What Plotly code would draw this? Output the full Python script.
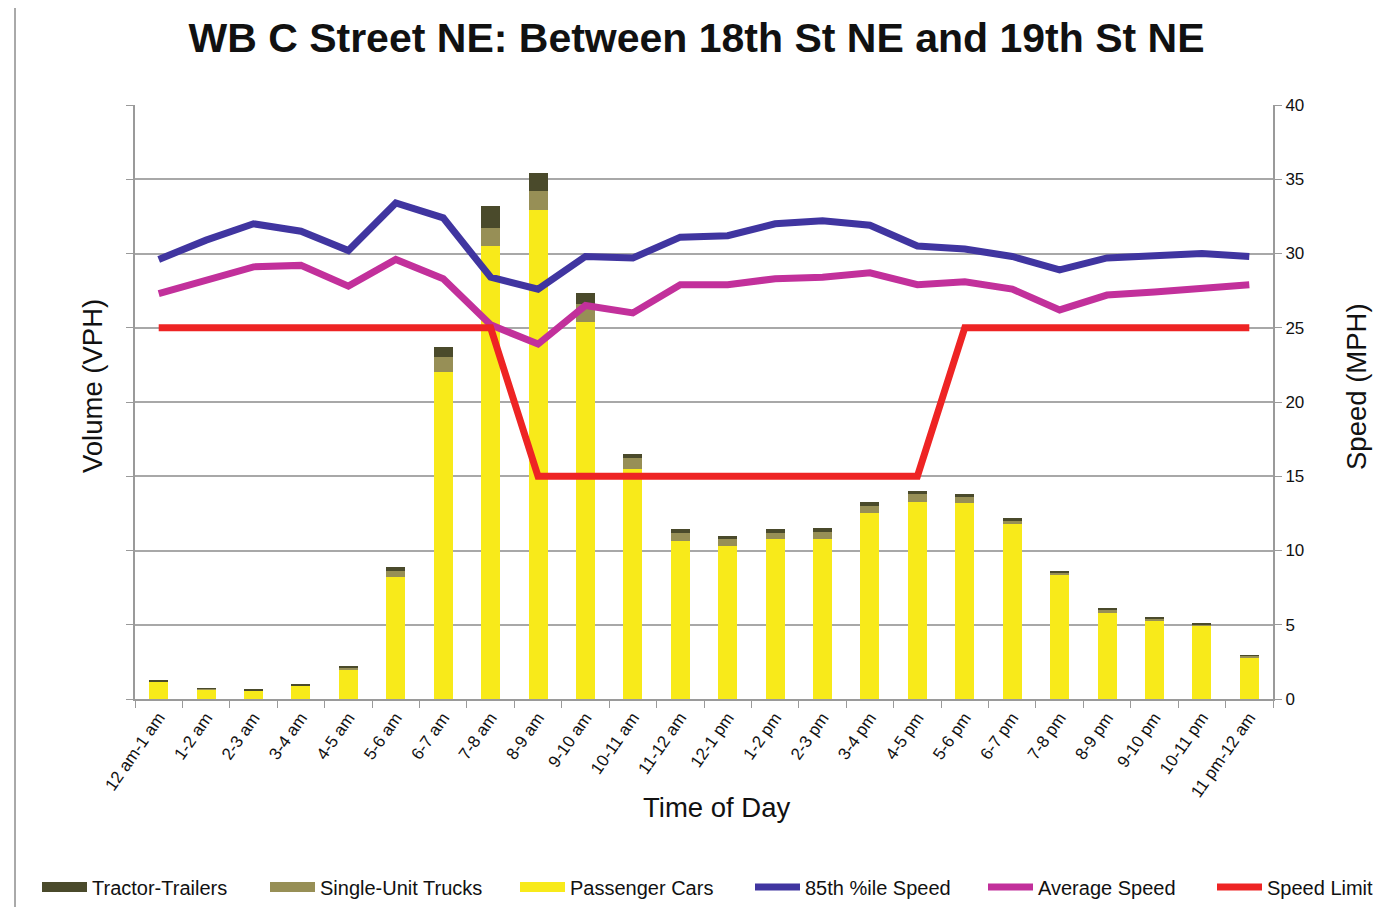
import plotly.graph_objects as go

categories = ["12 am-1 am", "1-2 am", "2-3 am", "3-4 am", "4-5 am", "5-6 am", "6-7 am", "7-8 am",
              "8-9 am", "9-10 am", "10-11 am", "11-12 am", "12-1 pm", "1-2 pm", "2-3 pm", "3-4 pm",
              "4-5 pm", "5-6 pm", "6-7 pm", "7-8 pm", "8-9 pm", "9-10 pm", "10-11 pm", "11 pm-12 am"]

passenger_cars = [1.15, 0.65, 0.55, 0.88, 2.0, 8.2, 22.0, 30.5, 32.9, 25.4, 15.5, 10.64,
                  10.3, 10.77, 10.8, 12.55, 13.3, 13.22, 11.78, 8.33, 5.81, 5.25, 4.94, 2.8]
single_unit = [0.05, 0.04, 0.04, 0.05, 0.12, 0.44, 1.0, 1.2, 1.3, 1.2, 0.75, 0.56,
               0.47, 0.43, 0.47, 0.45, 0.5, 0.36, 0.22, 0.17, 0.2, 0.16, 0.1, 0.1]
tractor_trailers = [0.03, 0.02, 0.02, 0.03, 0.08, 0.22, 0.7, 1.5, 1.25, 0.75, 0.25, 0.22,
                    0.23, 0.23, 0.23, 0.24, 0.22, 0.22, 0.19, 0.11, 0.14, 0.11, 0.09, 0.06]

speed_85th = [29.6, 30.9, 32.0, 31.5, 30.2, 33.4, 32.4, 28.4, 27.6, 29.8, 29.7, 31.1,
              31.2, 32.0, 32.2, 31.9, 30.5, 30.3, 29.8, 28.9, 29.7, 29.9, 30.0, 29.8]
speed_avg = [27.3, 28.2, 29.1, 29.2, 27.8, 29.6, 28.3, 25.2, 23.9, 26.5, 26.0, 27.9,
             27.9, 28.3, 28.4, 28.7, 27.9, 28.1, 27.6, 26.2, 27.2, 27.4, 27.6, 27.9]
speed_limit = [25, 25, 25, 25, 25, 25, 25, 25, 15, 15, 15, 15,
               15, 15, 15, 15, 15, 25, 25, 25, 25, 25, 25, 25]

right_ticks = [0, 5, 10, 15, 20, 25, 30, 35, 40]

C_TT = "#4a4a2b"
C_SU = "#978f56"
C_PC = "#f8ea1a"
C_85 = "#4035a0"
C_AVG = "#c2309b"
C_LIM = "#ee2424"
FONT = "Liberation Sans, Arial, sans-serif"
TXT = "#111111"

W, H = 1387, 899
L, T, R, B = 127, 97, 122, 208
PH = H - T - B
PW = W - L - R


def px_x(x_fig):
    return (x_fig - L) / PW


def px_y(y_fig):
    return (H - B - y_fig) / PH


fig = go.Figure()

# stacked bars (legend handled by proxy entries)
fig.add_trace(go.Bar(x=categories, y=passenger_cars, marker=dict(color=C_PC, line=dict(width=0)),
                     name="Passenger Cars", showlegend=False, yaxis="y"))
fig.add_trace(go.Bar(x=categories, y=single_unit, marker=dict(color=C_SU, line=dict(width=0)),
                     name="Single-Unit Trucks", showlegend=False, yaxis="y"))
fig.add_trace(go.Bar(x=categories, y=tractor_trailers, marker=dict(color=C_TT, line=dict(width=0)),
                     name="Tractor-Trailers", showlegend=False, yaxis="y"))

# legend proxies for bars
for nm, col, lg in [("Tractor-Trailers", C_TT, "legend"), ("Single-Unit Trucks", C_SU, "legend2"),
                    ("Passenger Cars", C_PC, "legend3")]:
    fig.add_trace(go.Scatter(x=[None], y=[None], mode="lines", name=nm,
                             line=dict(color=col, width=16), yaxis="y2", legend=lg))

fig.add_trace(go.Scatter(x=categories, y=speed_85th, mode="lines", name="85th %ile Speed",
                         line=dict(color=C_85, width=7), yaxis="y2", legend="legend4"))
fig.add_trace(go.Scatter(x=categories, y=speed_avg, mode="lines", name="Average Speed",
                         line=dict(color=C_AVG, width=7), yaxis="y2", legend="legend5"))
fig.add_trace(go.Scatter(x=categories, y=speed_limit, mode="lines", name="Speed Limit",
                         line=dict(color=C_LIM, width=7), yaxis="y2", legend="legend6"))

leg_common = dict(orientation="h", yanchor="middle", y=px_y(879),
                  font=dict(size=20, family=FONT, color=TXT), itemwidth=45,
                  bgcolor="rgba(0,0,0,0)", itemclick=False, xanchor="left")
# symbol start positions (page px) of each legend entry
leg_starts = [42, 270, 520, 755, 988, 1217]
legends = {}
for i, s in enumerate(leg_starts):
    key = "legend" if i == 0 else "legend%d" % (i + 1)
    legends[key] = dict(leg_common, x=px_x(s - 13))

title_font = dict(size=27.5, family=FONT, color=TXT)

fig.update_layout(
    width=W, height=H, autosize=False,
    margin=dict(l=L, r=R, t=T, b=B, pad=0, autoexpand=False),
    paper_bgcolor="white", plot_bgcolor="white",
    font=dict(family=FONT, color=TXT),
    barmode="stack", bargap=0.6,
    title=dict(text="<b>WB C Street NE: Between 18th St NE and 19th St NE</b>",
               x=(W / 2 - 5) / W, xanchor="center", y=1 - 30 / H, yanchor="middle",
               font=dict(size=41, family=FONT, color=TXT)),
    xaxis=dict(type="category", tickangle=-55, tickson="boundaries", ticks="outside",
               ticklen=7, tickcolor="#9a9a9a", showline=True, linecolor="#9a9a9a", linewidth=2,
               showgrid=False, automargin=False, tickfont=dict(size=17, family=FONT, color=TXT)),
    yaxis=dict(range=[0, 40], dtick=5, showticklabels=False, ticks="outside", ticklen=7,
               tickcolor="#9a9a9a", showline=True, linecolor="#9a9a9a", linewidth=2,
               showgrid=True, gridcolor="#a8a8a8", gridwidth=2, zeroline=False, automargin=False),
    yaxis2=dict(range=[0, 40], tickvals=right_ticks, overlaying="y", side="right",
                ticks="outside", ticklen=7, tickcolor="#9a9a9a", showline=True,
                linecolor="#9a9a9a", linewidth=2, showgrid=False, zeroline=False, automargin=False,
                tickfont=dict(size=17, family=FONT, color=TXT)),
    annotations=[
        dict(text="Time of Day", xref="paper", yref="paper", x=px_x(708), y=px_y(800),
             xanchor="center", yanchor="middle", showarrow=False, font=title_font),
        dict(text="Volume (VPH)", xref="paper", yref="paper", x=px_x(84), y=px_y(378),
             xanchor="center", yanchor="middle", showarrow=False, textangle=-90, font=title_font),
        dict(text="Speed (MPH)", xref="paper", yref="paper", x=px_x(1349), y=px_y(379),
             xanchor="center", yanchor="middle", showarrow=False, textangle=-90, font=title_font),
    ],
    shapes=[dict(type="line", xref="paper", yref="paper", x0=px_x(7), x1=px_x(7),
                 y0=-(B + 10) / PH, y1=1 + (T + 10) / PH, line=dict(color="#555555", width=1))],
    **legends,
)

fig.write_html("out.html")
